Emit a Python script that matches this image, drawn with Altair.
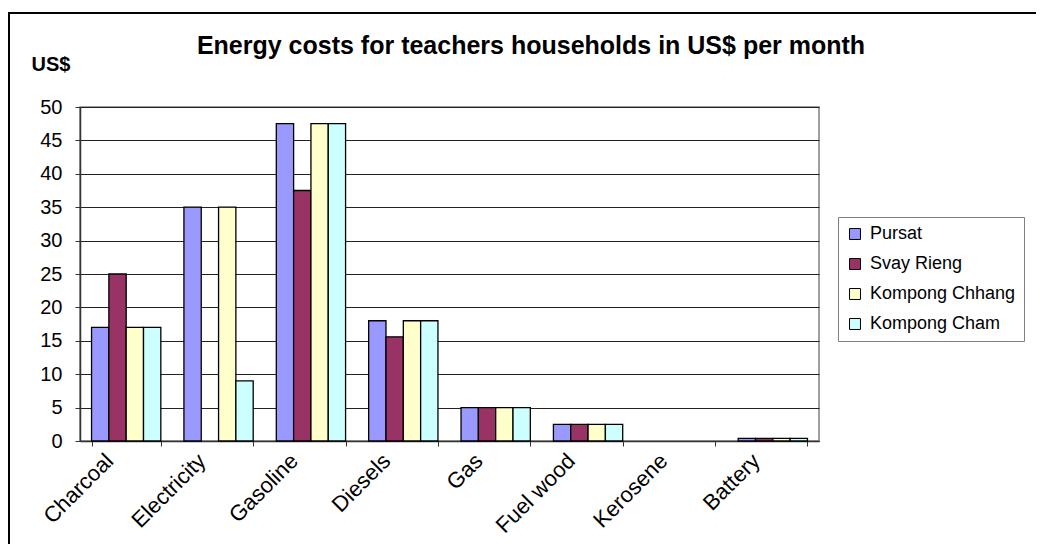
import altair as alt
import pandas as pd

categories = ["Charcoal", "Electricity", "Gasoline", "Diesels", "Gas", "Fuel wood", "Kerosene", "Battery"]
provinces = ["Pursat", "Svay Rieng", "Kompong Chhang", "Kompong Cham"]
pursat = [17, 35, 47.5, 18, 5, 2.5, 0, 0.4]
svay_rieng = [25, 0, 37.5, 15.6, 5, 2.5, 0, 0.4]
kompong_chhang = [17, 35, 47.5, 18, 5, 2.5, 0, 0.4]
kompong_cham = [17, 9, 47.5, 18, 5, 2.5, 0, 0.4]
colors = ["#9999FF", "#993366", "#FFFFCC", "#CCFFFF"]
y_ticks = [0, 5, 10, 15, 20, 25, 30, 35, 40, 45, 50]
title_text = "Energy costs for teachers households in US$ per month"

series = [pursat, svay_rieng, kompong_chhang, kompong_cham]
rows = []
for prov, vals in zip(provinces, series):
    for cat, v in zip(categories, vals):
        rows.append({"category": cat, "province": prov, "value": v})
df = pd.DataFrame(rows)

FONT = "Liberation Sans"

bars = alt.Chart(df).mark_bar(stroke="black").encode(
    x=alt.X("category:N", sort=categories,
            scale=alt.Scale(paddingInner=0.25, paddingOuter=0.125),
            axis=alt.Axis(title=None, labelAngle=-45, labelAlign="right", labelBaseline="middle",
                          labelFontSize=22, labelFont=FONT, labelColor="black",
                          labelOffset=-17, labelPadding=11,
                          tickBand="extent", tickSize=5, tickColor="#333", domainColor="#333",
                          domainWidth=1.5, grid=False)),
    xOffset=alt.XOffset("province:N", sort=provinces,
                        scale=alt.Scale(paddingInner=0, paddingOuter=0)),
    y=alt.Y("value:Q", scale=alt.Scale(domain=[0, 50], nice=False),
            axis=alt.Axis(values=y_ticks, title="US$", titleAngle=0, titleAlign="left",
                          titleBaseline="alphabetic", titleX=-49, titleY=-37,
                          titleFontSize=20, titleFont=FONT, titleFontWeight="bold", titleColor="black",
                          labelFontSize=20, labelFont=FONT, labelColor="black", labelPadding=13,
                          tickSize=5, tickColor="#333", domainColor="#333", domainWidth=1.5,
                          grid=True, gridColor="#222", gridWidth=1)),
    color=alt.Color("province:N", sort=provinces,
                    scale=alt.Scale(domain=provinces, range=colors),
                    legend=alt.Legend(title=None, orient="none", legendX=758, legendY=110,
                                      symbolType="square", symbolSize=120,
                                      symbolStrokeColor="black", symbolStrokeWidth=1,
                                      labelFontSize=18, labelFont=FONT, labelColor="black",
                                      rowPadding=12, padding=8, labelOffset=6,
                                      strokeColor="#808080", fillColor="white")),
    strokeWidth=alt.condition(alt.datum.value > 0, alt.value(1.3), alt.value(0)),
)

border = alt.Chart(df).mark_rect(fill=None, stroke="black", strokeWidth=2).encode(
    x=alt.value(-71.5), y=alt.value(-94), x2=alt.value(1200), y2=alt.value(700)
)

title = alt.Chart(pd.DataFrame({"t": [title_text]})).mark_text(
    font=FONT, fontSize=25, fontWeight="bold", color="black", align="center", baseline="alphabetic"
).encode(text="t:N", x=alt.value(451), y=alt.value(-53))

chart = alt.layer(border, bars, title).properties(
    width=739, height=334,
    padding={"left": 72, "top": 99, "right": 217, "bottom": 103},
    autosize=alt.AutoSizeParams(type="none"),
).configure_view(stroke="#808080", strokeWidth=1.5)

chart.save("out.html", embed_options={"renderer": "svg", "actions": False})
